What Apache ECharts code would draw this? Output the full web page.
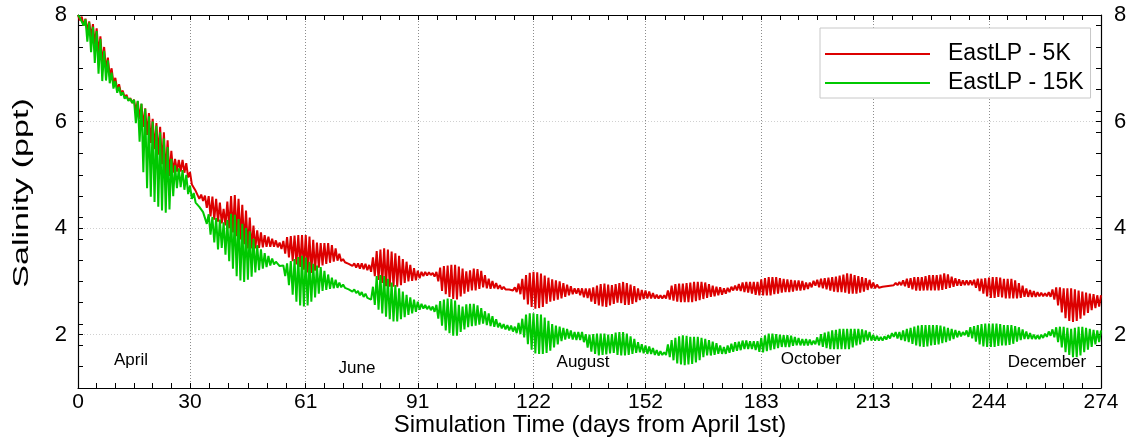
<!DOCTYPE html>
<html>
<head>
<meta charset="utf-8">
<script src="https://cdn.jsdelivr.net/npm/echarts@6/dist/echarts.min.js"></script>
<style>
  html, body { margin: 0; padding: 0; background: #ffffff; }
  #chart { width: 1131px; height: 442px; }
</style>
</head>
<body>
<div id="chart"></div>
<script>
// Daily salinity range (ppt) at the East LP station, days from April 1st.
// Each day holds the tidal high and low reading of the simulated salinity.
const redHigh = [
  8.00, 7.97, 7.93, 7.88, 7.83, 7.75, 7.60, 7.40, 7.20, 7.00,
  6.82, 6.70, 6.58, 6.50, 6.44, 6.41, 6.38, 6.33, 6.25, 6.16,
  6.05, 5.97, 5.90, 5.80, 5.65, 5.45, 5.30, 5.28, 5.28, 5.22,
  5.05, 4.85, 4.68, 4.63, 4.61, 4.60, 4.59, 4.55, 4.48, 4.36,
  4.50, 4.60, 4.62, 4.55, 4.44, 4.33, 4.20, 4.05, 3.96, 3.92,
  3.87, 3.84, 3.80, 3.77, 3.73, 3.76, 3.83, 3.85, 3.86, 3.87,
  3.87, 3.87, 3.84, 3.78, 3.73, 3.72, 3.72, 3.72, 3.68, 3.62,
  3.52, 3.42, 3.38, 3.36, 3.34, 3.34, 3.34, 3.33, 3.31, 3.45,
  3.57, 3.60, 3.62, 3.60, 3.56, 3.53, 3.48, 3.42, 3.37, 3.31,
  3.25, 3.20, 3.18, 3.18, 3.17, 3.16, 3.18, 3.26, 3.29, 3.30,
  3.31, 3.31, 3.28, 3.24, 3.19, 3.21, 3.24, 3.23, 3.20, 3.12,
  3.05, 3.01, 2.97, 2.93, 2.90, 2.87, 2.87, 2.89, 2.96, 3.05,
  3.12, 3.16, 3.18, 3.17, 3.15, 3.11, 3.07, 3.04, 3.02, 3.00,
  2.97, 2.94, 2.91, 2.87, 2.87, 2.87, 2.87, 2.87, 2.89, 2.92,
  2.95, 2.96, 2.94, 2.93, 2.95, 2.97, 2.99, 2.97, 2.94, 2.91,
  2.87, 2.84, 2.83, 2.81, 2.78, 2.75, 2.74, 2.74, 2.83, 2.92,
  2.95, 2.96, 2.96, 2.97, 2.98, 2.99, 2.99, 2.99, 2.98, 2.95,
  2.92, 2.90, 2.89, 2.87, 2.88, 2.90, 2.92, 2.95, 2.98, 2.99,
  2.99, 2.99, 2.99, 3.04, 3.06, 3.08, 3.08, 3.08, 3.06, 3.05,
  3.04, 3.03, 3.02, 3.02, 3.01, 2.98, 2.98, 3.01, 3.03, 3.05,
  3.06, 3.07, 3.08, 3.09, 3.11, 3.13, 3.15, 3.14, 3.12, 3.10,
  3.08, 3.06, 3.03, 2.98, 2.94, 2.91, 2.92, 2.93, 2.95, 2.97,
  2.99, 3.02, 3.05, 3.06, 3.08, 3.08, 3.08, 3.10, 3.12, 3.12,
  3.12, 3.13, 3.15, 3.13, 3.09, 3.06, 3.04, 3.02, 3.02, 3.02,
  3.03, 3.05, 3.05, 3.06, 3.07, 3.08, 3.08, 3.07, 3.05, 3.05,
  3.05, 3.02, 2.97, 2.92, 2.87, 2.84, 2.82, 2.80, 2.79, 2.78,
  2.80, 2.85, 2.89, 2.89, 2.87, 2.87, 2.87, 2.85, 2.83, 2.81,
  2.79, 2.77, 2.76, 2.74, 2.74
];
const redLow = [
  7.90, 7.80, 7.70, 7.58, 7.45, 7.28, 7.10, 6.98, 6.85, 6.72,
  6.60, 6.53, 6.45, 6.40, 6.35, 6.20, 6.05, 5.90, 5.75, 5.60,
  5.48, 5.38, 5.20, 5.00, 4.98, 5.04, 5.06, 5.06, 5.04, 4.95,
  4.82, 4.70, 4.55, 4.51, 4.38, 4.22, 4.16, 4.12, 4.09, 4.05,
  4.00, 3.92, 3.85, 3.79, 3.70, 3.62, 3.62, 3.62, 3.63, 3.64,
  3.65, 3.65, 3.65, 3.64, 3.61, 3.52, 3.45, 3.38, 3.32, 3.27,
  3.22, 3.17, 3.16, 3.20, 3.26, 3.30, 3.33, 3.35, 3.37, 3.39,
  3.38, 3.36, 3.33, 3.29, 3.26, 3.24, 3.23, 3.21, 3.18, 3.10,
  3.03, 2.97, 2.91, 2.90, 2.90, 2.90, 2.93, 2.97, 3.00, 3.01,
  3.02, 3.06, 3.10, 3.11, 3.12, 3.09, 3.00, 2.82, 2.76, 2.71,
  2.67, 2.66, 2.72, 2.77, 2.81, 2.83, 2.83, 2.86, 2.89, 2.87,
  2.86, 2.87, 2.86, 2.85, 2.85, 2.85, 2.83, 2.80, 2.76, 2.66,
  2.57, 2.52, 2.49, 2.50, 2.52, 2.58, 2.62, 2.64, 2.66, 2.68,
  2.71, 2.74, 2.76, 2.77, 2.74, 2.70, 2.69, 2.62, 2.58, 2.55,
  2.53, 2.52, 2.55, 2.58, 2.60, 2.59, 2.56, 2.56, 2.58, 2.61,
  2.65, 2.67, 2.68, 2.68, 2.68, 2.68, 2.68, 2.68, 2.66, 2.64,
  2.62, 2.61, 2.61, 2.61, 2.61, 2.63, 2.65, 2.67, 2.69, 2.71,
  2.72, 2.74, 2.75, 2.77, 2.80, 2.83, 2.83, 2.82, 2.80, 2.79,
  2.77, 2.75, 2.74, 2.74, 2.74, 2.74, 2.76, 2.77, 2.79, 2.80,
  2.80, 2.81, 2.83, 2.83, 2.84, 2.86, 2.89, 2.92, 2.89, 2.87,
  2.85, 2.83, 2.81, 2.80, 2.80, 2.79, 2.77, 2.77, 2.77, 2.79,
  2.81, 2.84, 2.87, 2.87, 2.88, 2.90, 2.91, 2.92, 2.93, 2.93,
  2.93, 2.91, 2.88, 2.85, 2.83, 2.83, 2.83, 2.83, 2.83, 2.83,
  2.83, 2.84, 2.86, 2.88, 2.90, 2.92, 2.92, 2.93, 2.93, 2.93,
  2.88, 2.82, 2.77, 2.72, 2.69, 2.69, 2.71, 2.70, 2.68, 2.68,
  2.68, 2.68, 2.69, 2.71, 2.71, 2.71, 2.71, 2.72, 2.72, 2.72,
  2.71, 2.66, 2.55, 2.42, 2.31, 2.26, 2.24, 2.26, 2.30, 2.36,
  2.41, 2.46, 2.50, 2.53, 2.55
];
const greenHigh = [
  8.00, 7.97, 7.92, 7.86, 7.78, 7.70, 7.55, 7.33, 7.15, 6.92,
  6.76, 6.65, 6.55, 6.47, 6.43, 6.41, 6.39, 6.34, 6.24, 6.10,
  6.00, 5.92, 5.80, 5.68, 5.52, 5.30, 5.18, 5.12, 5.09, 5.00,
  4.80, 4.66, 4.48, 4.40, 4.31, 4.26, 4.21, 4.19, 4.16, 4.11,
  4.15, 4.27, 4.25, 4.17, 4.08, 4.00, 3.94, 3.80, 3.68, 3.60,
  3.53, 3.48, 3.43, 3.37, 3.29, 3.30, 3.34, 3.38, 3.42, 3.46,
  3.48, 3.45, 3.37, 3.33, 3.30, 3.27, 3.20, 3.13, 3.07, 3.03,
  2.98, 2.94, 2.90, 2.88, 2.85, 2.82, 2.80, 2.77, 2.72, 2.90,
  3.10, 3.12, 3.10, 3.05, 2.98, 2.93, 2.87, 2.81, 2.75, 2.70,
  2.66, 2.62, 2.58, 2.56, 2.54, 2.53, 2.56, 2.63, 2.66, 2.68,
  2.67, 2.64, 2.56, 2.53, 2.57, 2.58, 2.58, 2.55, 2.50, 2.44,
  2.40, 2.35, 2.29, 2.22, 2.20, 2.18, 2.17, 2.15, 2.22, 2.30,
  2.38, 2.40, 2.40, 2.39, 2.38, 2.32, 2.26, 2.20, 2.17, 2.15,
  2.13, 2.11, 2.08, 2.05, 2.05, 2.05, 2.01, 2.00, 2.01, 2.02,
  2.02, 2.02, 2.00, 2.01, 2.04, 2.05, 2.05, 2.02, 1.97, 1.92,
  1.86, 1.82, 1.80, 1.78, 1.75, 1.71, 1.69, 1.67, 1.82, 1.90,
  1.94, 1.97, 1.99, 1.98, 1.96, 1.96, 1.96, 1.94, 1.92, 1.90,
  1.87, 1.84, 1.80, 1.77, 1.80, 1.83, 1.86, 1.87, 1.89, 1.89,
  1.88, 1.88, 1.88, 1.94, 1.99, 2.02, 2.02, 2.01, 2.00, 1.99,
  1.99, 1.98, 1.96, 1.94, 1.92, 1.92, 1.91, 1.89, 1.95, 2.01,
  2.04, 2.06, 2.08, 2.09, 2.11, 2.11, 2.11, 2.11, 2.11, 2.11,
  2.10, 2.08, 2.05, 2.00, 1.98, 1.96, 1.97, 1.99, 2.03, 2.05,
  2.05, 2.08, 2.11, 2.13, 2.15, 2.17, 2.18, 2.18, 2.18, 2.18,
  2.18, 2.17, 2.15, 2.13, 2.11, 2.09, 2.07, 2.05, 2.08, 2.14,
  2.16, 2.18, 2.20, 2.21, 2.21, 2.21, 2.21, 2.20, 2.18, 2.18,
  2.18, 2.16, 2.14, 2.10, 2.06, 2.03, 2.00, 1.99, 2.00, 2.02,
  2.06, 2.10, 2.14, 2.15, 2.15, 2.13, 2.11, 2.13, 2.15, 2.15,
  2.13, 2.11, 2.09, 2.08, 2.08
];
const greenLow = [
  7.95, 7.80, 7.50, 7.30, 7.10, 6.90, 6.76, 6.77, 6.72, 6.62,
  6.54, 6.49, 6.43, 6.39, 6.35, 5.97, 5.62, 5.05, 4.75, 4.59,
  4.49, 4.40, 4.33, 4.29, 4.35, 4.60, 4.75, 4.77, 4.72, 4.64,
  4.55, 4.48, 4.40, 4.30, 4.08, 3.88, 3.73, 3.60, 3.63, 3.50,
  3.38, 3.24, 3.10, 3.02, 2.99, 3.03, 3.09, 3.17, 3.21, 3.24,
  3.27, 3.30, 3.32, 3.33, 3.27, 3.10, 2.93, 2.75, 2.62, 2.55,
  2.53, 2.55, 2.62, 2.70, 2.77, 2.82, 2.84, 2.86, 2.87, 2.88,
  2.89, 2.88, 2.85, 2.81, 2.78, 2.74, 2.71, 2.69, 2.66, 2.56,
  2.47, 2.40, 2.34, 2.29, 2.25, 2.25, 2.29, 2.33, 2.37, 2.40,
  2.43, 2.47, 2.49, 2.48, 2.46, 2.43, 2.30, 2.17, 2.08, 2.03,
  1.98, 1.98, 2.05, 2.10, 2.14, 2.16, 2.17, 2.19, 2.21, 2.18,
  2.16, 2.15, 2.14, 2.12, 2.10, 2.08, 2.06, 2.03, 2.01, 1.95,
  1.82, 1.72, 1.65, 1.64, 1.64, 1.66, 1.70, 1.76, 1.82, 1.88,
  1.91, 1.93, 1.91, 1.90, 1.90, 1.86, 1.76, 1.68, 1.64, 1.61,
  1.62, 1.63, 1.65, 1.66, 1.62, 1.61, 1.61, 1.62, 1.64, 1.66,
  1.67, 1.65, 1.64, 1.64, 1.62, 1.61, 1.62, 1.62, 1.58, 1.52,
  1.46, 1.44, 1.43, 1.44, 1.45, 1.48, 1.52, 1.58, 1.61, 1.61,
  1.62, 1.64, 1.64, 1.64, 1.66, 1.68, 1.70, 1.71, 1.73, 1.73,
  1.73, 1.71, 1.68, 1.67, 1.69, 1.71, 1.73, 1.75, 1.77, 1.77,
  1.77, 1.79, 1.80, 1.80, 1.80, 1.80, 1.81, 1.82, 1.80, 1.77,
  1.75, 1.73, 1.73, 1.73, 1.73, 1.73, 1.73, 1.76, 1.80, 1.82,
  1.86, 1.89, 1.89, 1.89, 1.89, 1.89, 1.91, 1.93, 1.96, 1.93,
  1.90, 1.88, 1.86, 1.83, 1.80, 1.78, 1.77, 1.78, 1.80, 1.81,
  1.82, 1.84, 1.86, 1.89, 1.92, 1.95, 1.97, 1.99, 1.96, 1.93,
  1.87, 1.82, 1.78, 1.77, 1.77, 1.77, 1.79, 1.80, 1.80, 1.81,
  1.83, 1.87, 1.90, 1.92, 1.92, 1.92, 1.92, 1.92, 1.94, 1.96,
  1.98, 1.95, 1.86, 1.76, 1.67, 1.62, 1.58, 1.58, 1.61, 1.67,
  1.72, 1.77, 1.82, 1.86, 1.90
];

// Month boundaries (days from April 1st) used as the labelled x ticks.
const monthStarts = [0, 30, 61, 91, 122, 152, 183, 213, 244, 274];
const yLabels = [2, 4, 6, 8];
const seriesNames = ['EastLP - 5K', 'EastLP - 15K'];
const monthNotes = ['April', 'June', 'August', 'October', 'December'];

// Tidal trace: high reading at the start of each day, low half a day later.
function tidalTrace(high, low) {
  const pts = [];
  for (let d = 0; d < high.length; d++) {
    pts.push([d, high[d]]);
    if (d < high.length - 1) pts.push([d + 0.5, low[d]]);
  }
  return pts;
}

// Minor x ticks: six divisions per month.
const xMinor = [];
for (let i = 0; i < monthStarts.length - 1; i++) {
  const a = monthStarts[i], b = monthStarts[i + 1];
  for (let k = 1; k < 6; k++) xMinor.push(a + (b - a) * k / 6);
}
const xTicks = monthStarts.concat(xMinor).sort((p, q) => p - q);
// Minor y ticks every 0.4 ppt from the bottom of the axis, plus the labelled values.
const yTicks = [];
for (let k = 1; k <= 17; k++) yTicks.push(+(1 + 0.4 * k).toFixed(2));
yLabels.forEach(v => { if (yTicks.indexOf(v) < 0) yTicks.push(v); });

const RED = '#dc0000';
const GREEN = '#00c800';
const FONT = 'Arial, "Liberation Sans", sans-serif';
const NARROW = '"Liberation Sans Narrow", "Arial Narrow", Arial, sans-serif';

const chart = echarts.init(document.getElementById('chart'), null, { renderer: 'canvas' });

const tickStyle = { show: true, inside: true, length: 5, lineStyle: { color: '#000', width: 1 } };
const frameLine = { show: true, onZero: false, lineStyle: { color: '#000', width: 1.2 } };

const option = {
  animation: false,
  backgroundColor: '#ffffff',
  grid: { left: 78, right: 30, top: 15, bottom: 54, containLabel: false },
  legend: {
    data: seriesNames,
    orient: 'vertical',
    left: 820, top: 28,
    padding: [12, 7, 1, 5],
    itemGap: 1,
    itemWidth: 118,
    itemHeight: 20,
    icon: 'path://M0,0 L0,0 M0,9 L105,9 L105,11 L0,11 Z M118,20 L118,20',
    backgroundColor: '#ffffff',
    borderColor: '#c8c8c8',
    borderWidth: 1,
    borderRadius: 0,
    textStyle: { fontFamily: FONT, fontSize: 23, color: '#000', lineHeight: 28 }
  },
  xAxis: [
    {
      type: 'value', min: 0, max: 274, position: 'bottom',
      axisLine: frameLine,
      axisTick: Object.assign({ customValues: xTicks }, tickStyle),
      axisLabel: { customValues: monthStarts, color: '#000', fontFamily: NARROW, fontSize: 21, margin: 4 },
      splitLine: { show: false }
    },
    {
      type: 'value', min: 0, max: 274, position: 'top',
      axisLine: frameLine,
      axisTick: Object.assign({ customValues: xTicks }, tickStyle),
      axisLabel: { show: false },
      splitLine: { show: false }
    },
    {
      type: 'value', min: 0, max: 274, position: 'bottom',
      axisLine: { show: false },
      axisTick: { show: false, customValues: monthStarts.slice(1, -1) },
      axisLabel: { show: false },
      splitLine: { show: true, lineStyle: { color: '#8c8c8c', type: [1, 2], width: 1 } }
    }
  ],
  yAxis: [
    {
      type: 'value', min: 1, max: 8, position: 'left',
      axisLine: frameLine,
      axisTick: Object.assign({ customValues: yTicks }, tickStyle),
      axisLabel: { customValues: yLabels, color: '#000', fontFamily: FONT, fontSize: 22, margin: 11 },
      splitLine: { show: false }
    },
    {
      type: 'value', min: 1, max: 8, position: 'right',
      axisLine: frameLine,
      axisTick: Object.assign({ customValues: yTicks }, tickStyle),
      axisLabel: { customValues: yLabels, color: '#000', fontFamily: FONT, fontSize: 22, margin: 13 },
      splitLine: { show: false }
    },
    {
      type: 'value', min: 1, max: 8, position: 'left',
      axisLine: { show: false },
      axisTick: { show: false, customValues: [2, 4, 6] },
      axisLabel: { show: false },
      splitLine: { show: true, lineStyle: { color: '#d0d0d0', type: [1, 2], width: 1 } }
    }
  ],
  series: [
    {
      name: seriesNames[0], type: 'line', xAxisIndex: 0, yAxisIndex: 0,
      data: tidalTrace(redHigh, redLow),
      showSymbol: false, symbol: 'none', smooth: false,
      lineStyle: { color: RED, width: 2 }, itemStyle: { color: RED },
      z: 3
    },
    {
      name: seriesNames[1], type: 'line', xAxisIndex: 0, yAxisIndex: 0,
      data: tidalTrace(greenHigh, greenLow),
      showSymbol: false, symbol: 'none', smooth: false,
      lineStyle: { color: GREEN, width: 2 }, itemStyle: { color: GREEN },
      z: 4
    }
  ],
  graphic: [
    {
      type: 'text', x: 22, y: 193, rotation: Math.PI / 2, scaleX: 1.55, scaleY: 1,
      style: { text: 'Salinity (ppt)', font: '22px ' + FONT, fill: '#000', align: 'center', verticalAlign: 'middle' }
    },
    {
      type: 'text', x: 590, y: 425,
      style: { text: 'Simulation Time (days from April 1st)', font: '24px ' + FONT, fill: '#000', align: 'center', verticalAlign: 'middle' }
    },
    { type: 'text', x: 131, y: 360, style: { text: monthNotes[0], font: '17px ' + FONT, fill: '#000', align: 'center', verticalAlign: 'middle' } },
    { type: 'text', x: 357, y: 368, style: { text: monthNotes[1], font: '17px ' + FONT, fill: '#000', align: 'center', verticalAlign: 'middle' } },
    { type: 'text', x: 583, y: 362, style: { text: monthNotes[2], font: '17px ' + FONT, fill: '#000', align: 'center', verticalAlign: 'middle' } },
    { type: 'text', x: 811, y: 359, style: { text: monthNotes[3], font: '17px ' + FONT, fill: '#000', align: 'center', verticalAlign: 'middle' } },
    { type: 'text', x: 1047, y: 362, style: { text: monthNotes[4], font: '17px ' + FONT, fill: '#000', align: 'center', verticalAlign: 'middle' } }
  ]
};

chart.setOption(option);
</script>
</body>
</html>
